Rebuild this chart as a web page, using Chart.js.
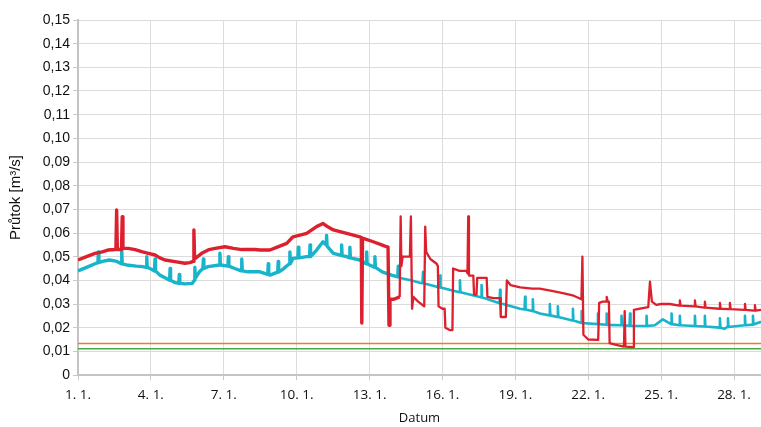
<!DOCTYPE html>
<html>
<head>
<meta charset="utf-8">
<script src="https://cdn.jsdelivr.net/npm/chart.js@4.4.1/dist/chart.umd.min.js"></script>
<style>
  html, body { margin: 0; padding: 0; background: #fff; }
  #wrap { width: 761px; height: 427px; }
</style>
</head>
<body>
<div id="wrap"><canvas id="flowChart" width="761" height="427"></canvas></div>
<script>
// days since 1. 1. (x) and flow in m3/s (y)
const dayTicks = [0, 3, 6, 9, 12, 15, 18, 21, 24, 27];
const dayLabels = ['1. 1.', '4. 1.', '7. 1.', '10. 1.', '13. 1.', '16. 1.', '19. 1.', '22. 1.', '25. 1.', '28. 1.'];
const flowTicks = [0, 0.01, 0.02, 0.03, 0.04, 0.05, 0.06, 0.07, 0.08, 0.09, 0.10, 0.11, 0.12, 0.13, 0.14, 0.15];
const flowLabels = ['0', '0,01', '0,02', '0,03', '0,04', '0,05', '0,06', '0,07', '0,08', '0,09', '0,10', '0,11', '0,12', '0,13', '0,14', '0,15'];
const dayMax = 28.11;

const redX = [0, 0.35, 0.7, 1.0, 1.23, 1.56, 1.59, 1.62, 1.79, 1.82, 1.85, 2.07, 2.35, 2.62, 2.9, 3.17, 3.37, 3.58, 3.99, 4.4, 4.6, 4.74, 4.77, 4.8,
  5.09, 5.4, 5.64, 6.05, 6.4, 6.74, 7.28, 7.49, 7.9, 8.2, 8.59, 8.85, 9.1, 9.41, 9.82, 10.08, 10.3, 10.51, 11.06, 11.6, 11.66, 11.68, 11.71,
  12.15, 12.5, 12.7, 12.76, 12.8, 12.84, 13.0, 13.24, 13.28, 13.31, 13.36, 13.5, 13.66, 13.7, 13.75, 13.8, 14.0, 14.25, 14.29, 14.33, 14.5,
  14.76, 14.81, 14.84, 15.0, 15.09, 15.12, 15.3, 15.41, 15.44, 15.7, 15.99, 16.03, 16.06, 16.09, 16.27, 16.3, 16.4, 16.43, 16.6, 16.82, 16.85,
  17.1, 17.37, 17.4, 17.61, 17.65, 17.8, 18.2, 18.7, 19.0, 19.5, 20.0, 20.4, 20.72, 20.76, 20.8, 21.0, 21.41, 21.45, 21.6, 21.74, 21.76, 21.8,
  21.85, 21.88, 22.1, 22.47, 22.5, 22.53, 22.85, 22.88, 23.13, 23.47, 23.54, 23.62, 23.8, 24.0, 24.36, 24.74, 24.77, 24.8, 25.36, 25.39, 25.42,
  25.77, 25.8, 25.83, 26.39, 26.42, 26.45, 26.8, 26.83, 26.86, 27.42, 27.45, 27.48, 27.83, 27.86, 27.89, 28.11];
const redY = [0.0486, 0.050, 0.0514, 0.052, 0.0528, 0.053, 0.0697, 0.053, 0.053, 0.0669, 0.0535, 0.0535, 0.053, 0.0521, 0.0514, 0.0507, 0.0495, 0.0486, 0.0479, 0.0472, 0.0475, 0.048, 0.0613, 0.049,
  0.0514, 0.053, 0.0535, 0.0542, 0.0535, 0.053, 0.053, 0.0528, 0.0528, 0.054, 0.0556, 0.0584, 0.059, 0.0598, 0.0627, 0.064, 0.0625, 0.0613, 0.0598, 0.0584, 0.058, 0.022, 0.0578,
  0.0563, 0.055, 0.0542, 0.054, 0.021, 0.032, 0.032, 0.033, 0.067, 0.046, 0.050, 0.050, 0.050, 0.067, 0.028, 0.033, 0.031, 0.029, 0.0627, 0.052, 0.049,
  0.047, 0.046, 0.029, 0.028, 0.028, 0.020, 0.019, 0.019, 0.045, 0.044, 0.044, 0.043, 0.067, 0.042, 0.042, 0.034, 0.034, 0.041, 0.041, 0.041, 0.033,
  0.0325, 0.0325, 0.0245, 0.0245, 0.040, 0.038, 0.037, 0.0365, 0.0365, 0.0355, 0.0345, 0.0335, 0.032, 0.050, 0.017, 0.015, 0.0148, 0.0305, 0.031, 0.031, 0.033, 0.031,
  0.031, 0.0135, 0.0128, 0.012, 0.027, 0.012, 0.0118, 0.0275, 0.028, 0.0287, 0.0394, 0.031, 0.0296, 0.030, 0.030, 0.0293, 0.0315, 0.0293, 0.029, 0.0315, 0.029,
  0.0285, 0.031, 0.0285, 0.028, 0.0305, 0.028, 0.0278, 0.0305, 0.0278, 0.0275, 0.030, 0.0275, 0.0272, 0.0295, 0.0272, 0.0275];

const cyanX = [0, 0.35, 0.7, 0.82, 0.84, 0.86, 1.0, 1.3, 1.6, 1.78, 1.8, 1.82, 2.0, 2.4, 2.65, 2.81, 2.83, 2.85, 3.0, 3.15, 3.17, 3.19, 3.37, 3.6,
  3.77, 3.79, 3.81, 4.0, 4.15, 4.17, 4.19, 4.4, 4.7, 4.79, 4.81, 4.83, 5.0, 5.14, 5.16, 5.18, 5.35, 5.82, 5.84, 5.86, 6.17, 6.19, 6.21, 6.45,
  6.72, 6.74, 6.76, 7.0, 7.49, 7.81, 7.83, 7.85, 7.9, 8.22, 8.24, 8.26, 8.4, 8.7, 8.72, 8.74, 8.85, 9.05, 9.07, 9.09, 9.41, 9.53, 9.55, 9.57,
  9.82, 10.08, 10.21, 10.23, 10.25, 10.51, 10.83, 10.85, 10.87, 11.06, 11.17, 11.19, 11.21, 11.6, 11.86, 11.88, 11.9, 12.0, 12.2, 12.22, 12.24,
  12.52, 12.9, 13.16, 13.18, 13.2, 13.25, 13.7, 14.07, 14.18, 14.2, 14.22, 14.88, 14.9, 14.92, 15.7, 15.72, 15.74, 16.54, 16.59, 16.61, 16.63,
  17.35, 17.37, 17.39, 18.19, 18.38, 18.4, 18.42, 18.7, 18.72, 18.74, 19.01, 19.4, 19.42, 19.44, 19.73, 19.75, 19.77, 20.35, 20.37, 20.39, 20.66,
  20.71, 20.73, 20.75, 21.38, 21.4, 21.42, 21.74, 21.76, 21.78, 22.35, 22.37, 22.39, 22.7, 22.72, 22.74, 23.38, 23.4, 23.42, 23.74, 24.07, 24.36,
  24.41, 24.43, 24.45, 24.75, 24.77, 24.79, 25.37, 25.39, 25.41, 25.78, 25.8, 25.82, 26.4, 26.42, 26.44, 26.6, 26.73, 26.75, 26.77, 26.95,
  27.43, 27.45, 27.47, 27.76, 27.78, 27.8, 28.11];
const cyanY = [0.044, 0.0455, 0.047, 0.0475, 0.052, 0.0475, 0.048, 0.0486, 0.048, 0.047, 0.053, 0.047, 0.0465, 0.046, 0.0458, 0.0455, 0.050, 0.0455, 0.0448, 0.044, 0.049, 0.044, 0.0422, 0.041,
  0.040, 0.045, 0.040, 0.039, 0.0387, 0.0425, 0.0387, 0.0385, 0.0387, 0.040, 0.0455, 0.041, 0.0436, 0.045, 0.049, 0.045, 0.0458, 0.0465, 0.0515, 0.0465, 0.046, 0.050, 0.046, 0.045,
  0.044, 0.049, 0.044, 0.0436, 0.0436, 0.0425, 0.047, 0.0425, 0.0422, 0.0435, 0.048, 0.0435, 0.0444, 0.047, 0.052, 0.047, 0.0493, 0.0495, 0.054, 0.0495, 0.050, 0.050, 0.055, 0.050,
  0.0528, 0.0563, 0.055, 0.059, 0.0545, 0.0514, 0.0505, 0.055, 0.0505, 0.050, 0.0495, 0.054, 0.0495, 0.0486, 0.047, 0.052, 0.047, 0.0465, 0.0455, 0.050, 0.0455,
  0.0436, 0.0422, 0.0415, 0.046, 0.0415, 0.041, 0.040, 0.039, 0.0388, 0.0435, 0.0388, 0.037, 0.042, 0.037, 0.035, 0.040, 0.035, 0.033, 0.0328, 0.038, 0.0328,
  0.0303, 0.036, 0.0303, 0.028, 0.0277, 0.033, 0.0277, 0.027, 0.032, 0.027, 0.026, 0.0252, 0.030, 0.0252, 0.0245, 0.029, 0.0245, 0.023, 0.028, 0.023, 0.0222,
  0.022, 0.027, 0.022, 0.0215, 0.026, 0.0215, 0.0212, 0.026, 0.0212, 0.021, 0.025, 0.021, 0.0208, 0.026, 0.0208, 0.0207, 0.025, 0.0207, 0.021, 0.0235, 0.0218,
  0.0215, 0.026, 0.0215, 0.021, 0.025, 0.021, 0.0207, 0.025, 0.0207, 0.0205, 0.025, 0.0205, 0.020, 0.024, 0.020, 0.0195, 0.0203, 0.024, 0.0203, 0.0205,
  0.021, 0.025, 0.021, 0.0213, 0.025, 0.0213, 0.0225];

// limit lines
const orangeLevel = 0.0133;
const greenLevel = 0.0111;

const toPoints = (xs, ys) => xs.map((x, i) => ({ x: x, y: ys[i] }));

// the record is noisier (thicker) in the first half
const noisyWidth = (early, late) => (c => c.p0.parsed.x < 13.2 ? early : late);

const ctx = document.getElementById('flowChart').getContext('2d');
new Chart(ctx, {
    type: 'line',
    data: {
        datasets: [
            { data: toPoints(redX, redY), borderColor: '#dc202e', borderWidth: 3, segment: { borderWidth: noisyWidth(3.4, 2.3) } },
            { data: toPoints(cyanX, cyanY), borderColor: '#18b4cc', borderWidth: 3, segment: { borderWidth: noisyWidth(3.4, 2.6) } },
            { data: toPoints([0, dayMax], [orangeLevel, orangeLevel]), borderColor: '#ee7d24', borderWidth: 1.5 },
            { data: toPoints([0, dayMax], [greenLevel, greenLevel]), borderColor: '#4caa44', borderWidth: 1.5 }
        ]
    },
    options: {
        responsive: false,
        animation: false,
        parsing: false,
        elements: { point: { radius: 0 }, line: { tension: 0, borderJoinStyle: 'round' } },
        layout: { padding: { top: 20, right: 0, left: 0, bottom: 0 } },
        plugins: { legend: { display: false }, tooltip: { enabled: false } },
        scales: {
            x: {
                type: 'linear',
                min: 0,
                max: dayMax,
                afterBuildTicks: s => { s.ticks = dayTicks.map(v => ({ value: v })); },
                afterFit: s => { s.height = 52; },
                grid: { color: '#dcdcdc', tickLength: 5, tickColor: '#c8c8c8' },
                border: { color: '#c4c4c4', width: 2 },
                ticks: {
                    autoSkip: false, maxRotation: 0, padding: 7, color: '#111',
                    font: { family: 'Open Sans', size: 13.5 },
                    callback: (v, i) => dayLabels[i]
                },
                title: { display: true, text: 'Datum', color: '#111', font: { family: 'Open Sans', size: 13 }, padding: { top: 0, bottom: 1 } }
            },
            y: {
                min: 0,
                max: 0.15,
                afterBuildTicks: s => { s.ticks = flowTicks.map(v => ({ value: v })); },
                afterFit: s => { s.width = 78; },
                grid: { color: '#dcdcdc', tickLength: 5, tickColor: '#c8c8c8' },
                border: { color: '#c4c4c4', width: 2 },
                ticks: {
                    autoSkip: false, padding: 3, color: '#111',
                    font: { family: 'Liberation Sans', size: 14 },
                    callback: (v, i) => flowLabels[i]
                },
                title: { display: true, text: 'Průtok [m³/s]', color: '#111', font: { family: 'Liberation Sans', size: 15 }, padding: { top: 7, bottom: 0 } }
            }
        }
    }
});
</script>
</body>
</html>
